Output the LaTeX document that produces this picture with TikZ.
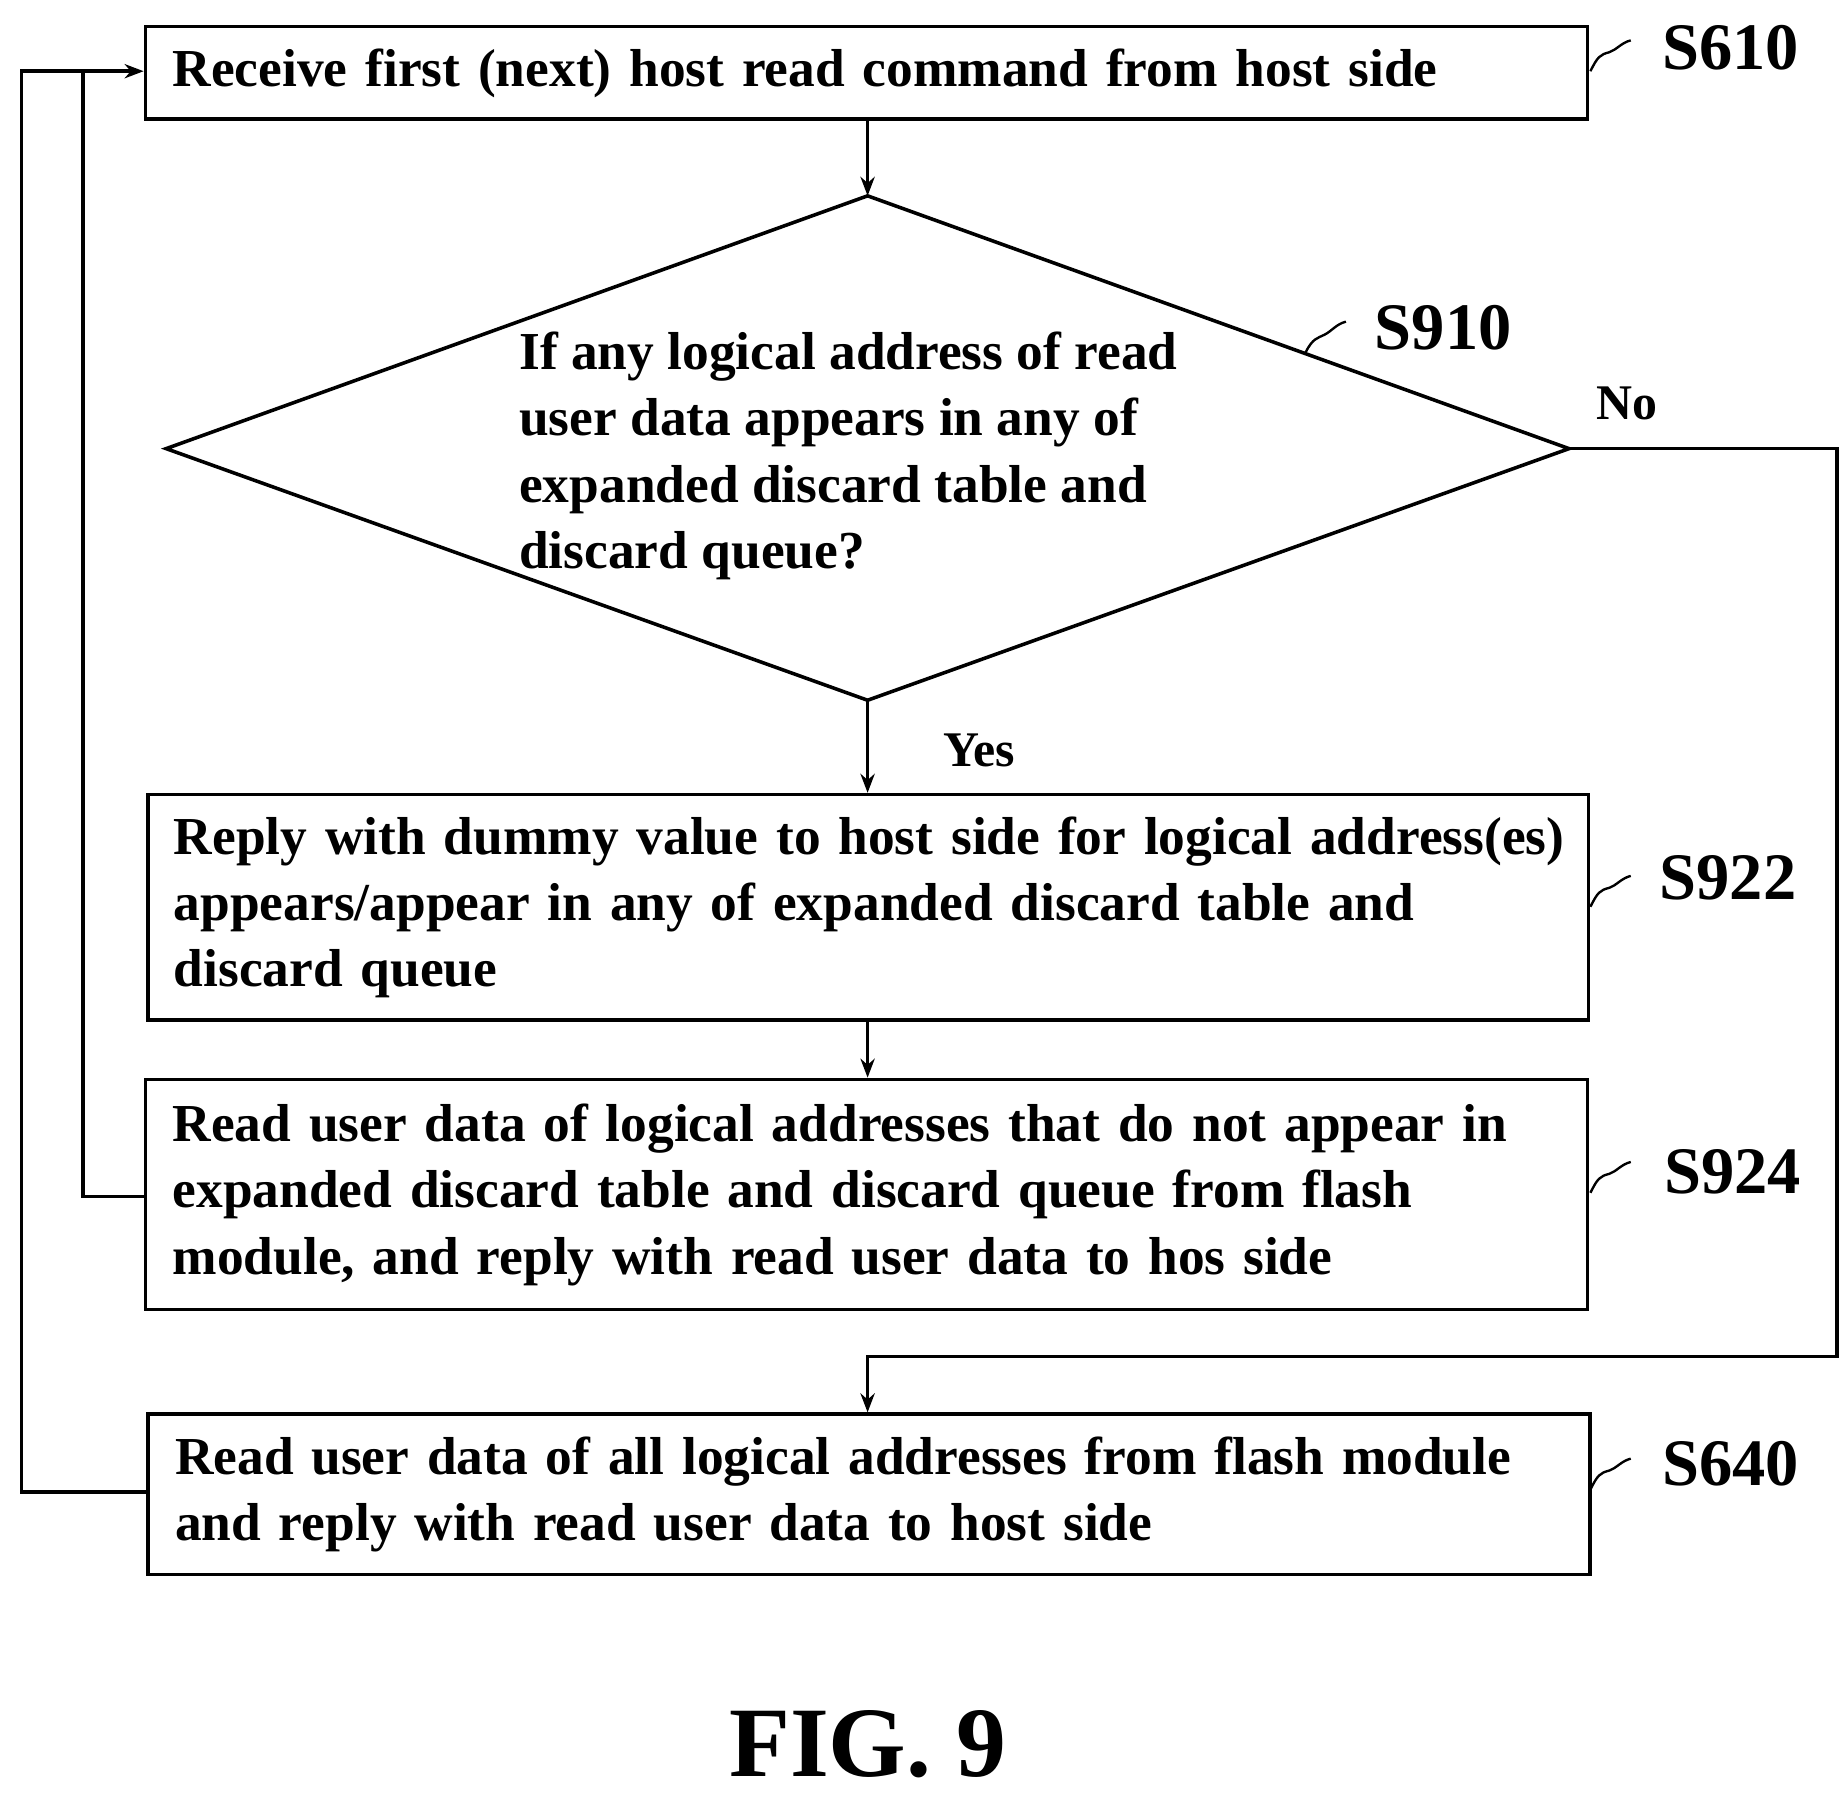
\documentclass[tikz,border=0pt]{standalone}
\usepackage{fontspec}
\setmainfont{Liberation Serif}
\usetikzlibrary{arrows.meta}
\begin{document}
\begin{tikzpicture}[x=1pt,y=-1pt,line width=3pt,
 box/.style={draw,rectangle,align=left,inner xsep=23pt,font=\fontsize{45}{56}\selectfont\bfseries,anchor=north west},
 lbl/.style={font=\fontsize{56}{60}\selectfont\bfseries},
 arr/.style={-{Stealth[length=16pt,width=12pt]}},
 sq/.style={line width=2pt}]
\useasboundingbox (0,0) rectangle (1552,1514);
\node[box,minimum width=1215pt,minimum height=78pt,text width=1169pt] (s610) at (121,21) {Receive first (next) host read command from host side};
\coordinate (dl) at (140,378); \coordinate (dt) at (731,165);
\coordinate (dr) at (1322,378); \coordinate (db) at (731,590);
\draw (dl)--(dt)--(dr)--(db)--cycle;
\node[anchor=north west,align=left,font=\fontsize{45}{56}\selectfont\bfseries,inner sep=0] (s910) at (436,278) {If any logical address of read\\user data appears in any of\\expanded discard table and\\discard queue?};
\node[box,inner xsep=10pt,minimum width=1214pt,minimum height=190pt,text width=1194pt] (s922) at (123,668) {\hspace{12pt}Reply with dummy value to host side for logical address(es)\\\hspace*{12pt}appears/appear in any of expanded discard table and\\\hspace*{12pt}discard queue};
\node[box,minimum width=1215pt,minimum height=194pt,text width=1169pt] (s924) at (121,908) {Read user data of logical addresses that do not appear in\\expanded discard table and discard queue from flash\\module, and reply with read user data to hos side};
\node[box,minimum width=1215pt,minimum height=135pt,text width=1169pt] (s640) at (123,1190) {Read user data of all logical addresses from flash module\\and reply with read user data to host side};
\draw[arr] (s610.south -| dt) -- (dt);
\draw[arr] (db) -- (s922.north -| db);
\draw[arr] (s922.south -| db) -- (s924.north -| db);
\coordinate (c1) at (1548,378); \coordinate (c2) at (1548,1143); \coordinate (c3) at (731,1143);
\draw[arr] (dr) -- (c1) -- (c2) -- (c3) -- (s640.north -| c3);
\coordinate (l1) at (70,1008); \coordinate (l2) at (70,60);
\coordinate (m1) at (18,1257); \coordinate (m2) at (18,60);
\draw (s924.west |- l1) -- (l1) -- (l2);
\draw[arr] (s640.west |- m1) -- (m1) -- (m2) -- (s610.west |- m2);
\node[font=\fontsize{42}{48}\selectfont\bfseries] (yes) at (825,632) {Yes};
\node[font=\fontsize{42}{48}\selectfont\bfseries] (no) at (1371,340) {No};
\node[lbl] (t610) at (1458,40) {S610};
\node[lbl] (t910) at (1216,276) {S910};
\node[lbl] (t922) at (1456,740) {S922};
\node[lbl] (t924) at (1460,987) {S924};
\node[lbl] (t640) at (1458,1233) {S640};
\foreach \x/\y in {1340/60,1340/764,1340/1005,1340/1255} {
 \draw[sq] (\x,\y) .. controls (\x+6,\y-12) and (\x+8,\y-14) .. (\x+16,\y-16) .. controls (\x+22,\y-18) and (\x+26,\y-24) .. (\x+34,\y-26);
}
\draw[sq] (1100,297) .. controls (1106,285) and (1110,285) .. (1116,282) .. controls (1122,279) and (1126,273) .. (1134,271);
\node[font=\fontsize{84}{86}\selectfont\bfseries] (fig) at (731,1470) {FIG. 9};
\end{tikzpicture}
\end{document}
